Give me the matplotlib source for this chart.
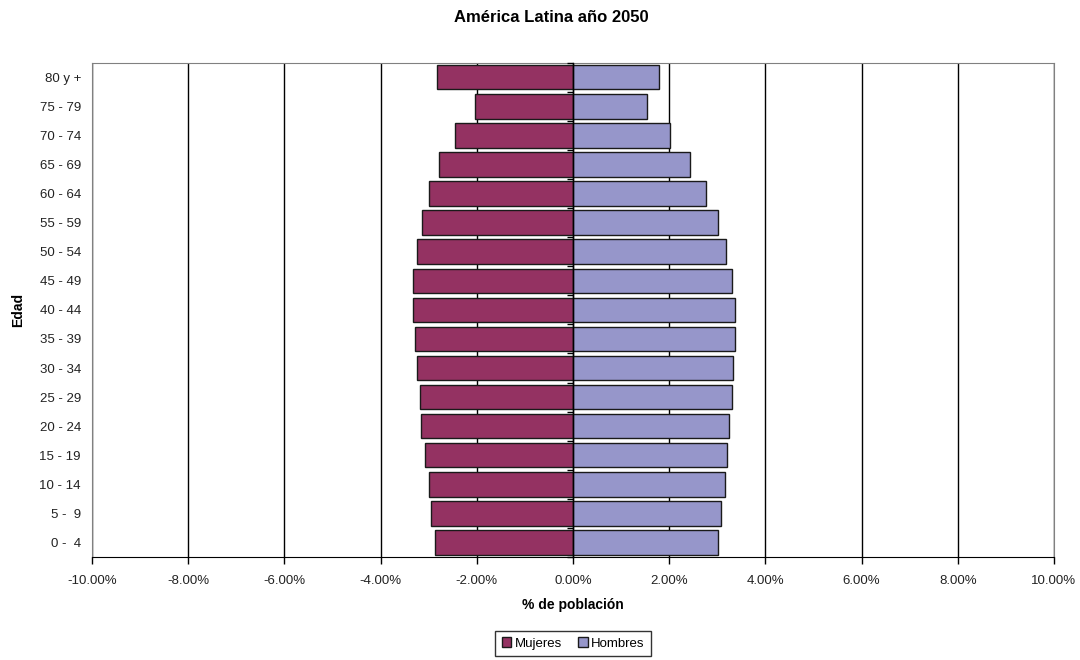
import matplotlib.pyplot as plt
import numpy as np

plt.rcParams['font.family'] = ['Liberation Sans', 'DejaVu Sans']

# grupos de edad, de abajo hacia arriba
edades = ['0 -  4', '5 -  9', '10 - 14', '15 - 19', '20 - 24', '25 - 29',
          '30 - 34', '35 - 39', '40 - 44', '45 - 49', '50 - 54', '55 - 59',
          '60 - 64', '65 - 69', '70 - 74', '75 - 79', '80 y +']

# porcentaje de la población (mujeres a la izquierda, con signo negativo)
mujeres = [-2.87, -2.95, -3.00, -3.08, -3.16, -3.19, -3.24, -3.29, -3.32,
           -3.32, -3.24, -3.13, -3.00, -2.79, -2.45, -2.03, -2.82]
hombres = [3.02, 3.07, 3.15, 3.20, 3.25, 3.31, 3.33, 3.36, 3.36,
           3.31, 3.18, 3.02, 2.76, 2.44, 2.02, 1.54, 1.78]

xticks = np.arange(-10, 10.1, 2)

fig = plt.figure(figsize = (10.8, 6.6), dpi = 100)
ax = fig.add_axes([0.0852, 0.156, 0.8907, 0.749])

y = np.arange(len(edades))
ax.barh(y, mujeres, height = 0.84, color = '#943262', edgecolor = '#1a1a1a',
        linewidth = 1, label = 'Mujeres', zorder = 3)
ax.barh(y, hombres, height = 0.84, color = '#9696ca', edgecolor = '#1a1a1a',
        linewidth = 1, label = 'Hombres', zorder = 3)

ax.set_xlim(-10, 10)
ax.set_ylim(-0.5, len(edades) - 0.5)
ax.set_xticks(xticks)
ax.set_xticklabels([f'{v:.2f}%' for v in xticks], fontsize = 9.5, color = '#222222')
ax.set_yticks(y)
ax.set_yticklabels(edades, fontsize = 9.5, color = '#222222')
ax.tick_params(axis = 'y', length = 0, pad = 8)
ax.tick_params(axis = 'x', length = 5, width = 1, direction = 'out', pad = 8)
ax.xaxis.grid(True, color = 'black', linewidth = 1, zorder = 0)
ax.set_axisbelow(True)

for side in ['left', 'top', 'right']:
    ax.spines[side].set_color('#808080')
ax.spines['bottom'].set_color('black')

# eje vertical en el cero con marcas entre grupos
ax2 = ax.twinx()
ax2.set_ylim(ax.get_ylim())
ax2.spines['right'].set_position(('data', 0))
ax2.spines['right'].set_linewidth(1)
for side in ['left', 'top', 'bottom']:
    ax2.spines[side].set_visible(False)
ax2.set_yticks(np.arange(len(edades) + 1) - 0.5)
ax2.set_yticklabels([])
ax2.tick_params(axis = 'y', direction = 'in', length = 4, width = 1)

fig.text(0.5106, 0.974, 'América Latina año 2050', fontsize = 12,
         fontweight = 'bold', ha = 'center', va = 'center')
ax.set_xlabel('% de población', fontsize = 10, fontweight = 'bold', labelpad = 8)
ax.set_ylabel('Edad', fontsize = 10, fontweight = 'bold', labelpad = 10)

leg = ax.legend(loc = 'upper center', bbox_to_anchor = (0.5, -0.136), ncol = 2,
                fontsize = 9.5, frameon = True, fancybox = False,
                handlelength = 0.75, handleheight = 0.75, handletextpad = 0.25,
                columnspacing = 1.2, borderpad = 0.5)
leg.get_frame().set_edgecolor('black')
leg.get_frame().set_linewidth(1)

fig.savefig('out.png', dpi = 100)
